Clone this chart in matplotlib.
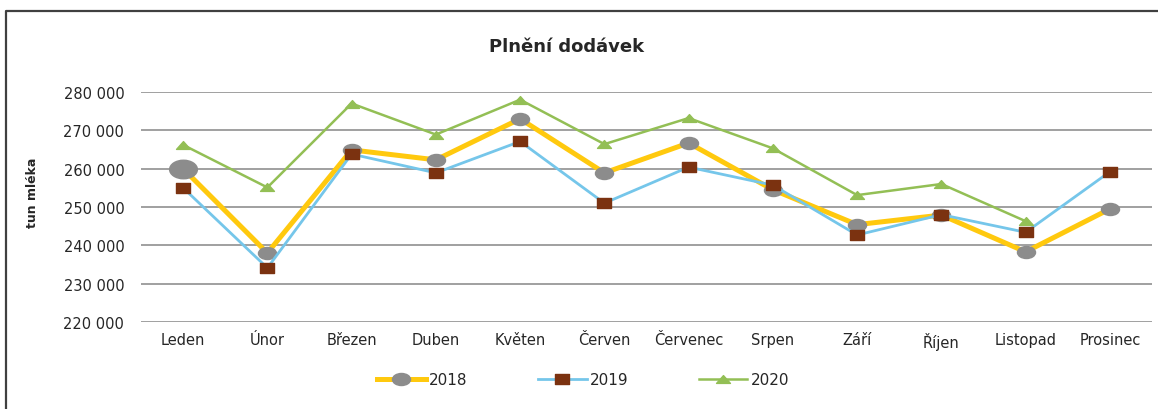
import matplotlib
matplotlib.use("Agg")
import matplotlib.pyplot as plt
from matplotlib.path import Path
from matplotlib.transforms import Affine2D
from matplotlib.lines import Line2D

months = ["Leden", "Únor", "Březen", "Duben", "Květen", "Červen",
          "Červenec", "Srpen", "Září", "Říjen", "Listopad", "Prosinec"]

y2018 = [260000, 238000, 264900, 262300, 273000, 258900,
         266700, 254500, 245400, 247900, 238300, 249500]
y2019 = [255000, 234100, 263800, 258900, 267100, 251000,
         260400, 255700, 242700, 248000, 243400, 259200]
y2020 = [266200, 255100, 277000, 268900, 278000, 266400,
         273200, 265300, 253100, 256000, 246300]

yticks = [220000, 230000, 240000, 250000, 260000, 270000, 280000]
ytick_labels = ["220 000", "230 000", "240 000", "250 000",
                "260 000", "270 000", "280 000"]


def main():
    # wide markers, the original picture is stretched sideways
    ellipse = Path.unit_circle().transformed(Affine2D().scale(1.5, 1.0))
    rect = Path([(-0.65, -0.5), (0.65, -0.5), (0.65, 0.5), (-0.65, 0.5), (-0.65, -0.5)],
                [Path.MOVETO, Path.LINETO, Path.LINETO, Path.LINETO, Path.CLOSEPOLY])
    tri = Path([(-0.8, -0.45), (0.8, -0.45), (0.0, 0.45), (-0.8, -0.45)],
               [Path.MOVETO, Path.LINETO, Path.LINETO, Path.CLOSEPOLY])

    fig = plt.figure(figsize=(11.58, 4.10), dpi=100)
    ax = fig.add_axes([141 / 1158, 1 - 323 / 410, 1011 / 1158, 230 / 410])

    x = list(range(len(months)))

    ax.plot(x, y2018, color="#FFC90E", lw=3.6, marker=ellipse, ms=13,
            mfc="#8C8C8C", mec="#8C8C8C", label="2018", zorder=3)
    # first point drawn bigger in the original
    ax.plot(x[:1], y2018[:1], ls="none", marker=ellipse, ms=20,
            mfc="#8C8C8C", mec="#8C8C8C", zorder=3.1)
    ax.plot(x, y2019, color="#75C6EA", lw=2.0, marker=rect, ms=9.5,
            mfc="#7B3210", mec="#7B3210", label="2019", zorder=4)
    ax.plot(x[:len(y2020)], y2020, color="#93BF55", lw=1.8, marker=tri, ms=10,
            mfc="#93BF55", mec="#93BF55", label="2020", zorder=5)

    # axes and grid
    ax.set_xlim(-0.5, len(months) - 0.5)
    ax.set_ylim(220000, 280000)
    ax.set_yticks(yticks)
    ax.set_yticklabels(ytick_labels)
    ax.set_xticks(x)
    ax.set_xticklabels(months)
    ax.tick_params(axis="y", length=0, pad=12, labelsize=10.5, colors="#262626")
    ax.tick_params(axis="x", length=0, pad=7, labelsize=10.5, colors="#262626")
    ax.grid(axis="y", color="#A0A0A0", lw=1.4)
    ax.set_axisbelow(True)
    for s in ax.spines.values():
        s.set_visible(False)

    fig.text(33 / 1158, 1 - 193 / 410, "tun mléka", rotation=90,
             ha="center", va="center", fontsize=9, fontweight="bold", color="#262626")
    fig.text(567 / 1158, 1 - 47 / 410, "Plnění dodávek", ha="center", va="center",
             fontsize=13, fontweight="bold", color="#262626")

    ax.legend(loc="center", bbox_to_anchor=(583 / 1158, 1 - 381 / 410),
              bbox_transform=fig.transFigure, ncol=3, frameon=False,
              fontsize=11, handlelength=3.2, handletextpad=0.2,
              columnspacing=4.6, labelcolor="#262626")

    # chart frame, only left and top edges are visible
    fig.add_artist(Line2D([6 / 1158, 6 / 1158, 1.0], [0.0, 1 - 12 / 410, 1 - 12 / 410],
                          transform=fig.transFigure, color="#404040", lw=1.6))

    fig.savefig("out.png", dpi=100)


if __name__ == "__main__":
    main()
